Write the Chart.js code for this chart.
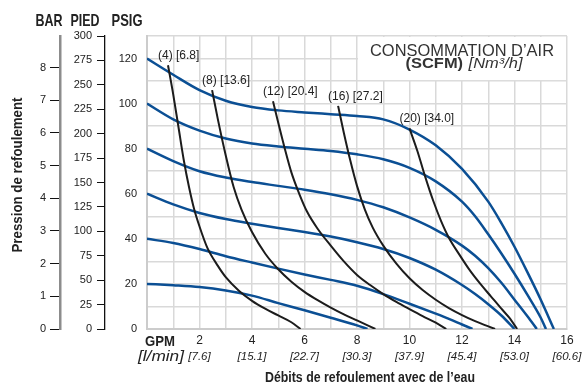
<!DOCTYPE html>
<html><head><meta charset="utf-8">
<script src="https://cdn.jsdelivr.net/npm/chart.js@4/dist/chart.umd.min.js"></script>
<style>html,body{margin:0;padding:0;background:#fff;}#wrap{width:582px;height:385px;}</style>
</head><body><div id="wrap"><canvas id="c" width="582" height="385"></canvas></div>
<script>
// ---- data (GPM, PSIG) ----
const psig20  = [[0,20],[1,19.4],[2,18.6],[3,17.1],[4,14.8],[5,11.5],[6,8.3],[7,5],[8,1.6],[8.4,0]];
const psig40  = [[0,40],[1,38.2],[2,35.5],[3,32.3],[4,29.5],[5,26.8],[6,24.2],[7,21.8],[8,19.2],[9,15.5],[10,11.2],[11,6.8],[11.5,4.5],[12,2],[12.4,0]];
const psig60  = [[0,60],[1,55.3],[2,51.5],[3,48.8],[4,46.7],[5,44.8],[6,43],[7,41],[8,38.5],[9,35.5],[10,31.5],[11,26.3],[12,19.5],[12.5,15.5],[13,11],[13.5,6],[14,0]];
const psig80  = [[0,80],[1,74.5],[2,70],[3,67.2],[4,65.2],[5,63.5],[6,61.8],[7,59.8],[8,57.3],[9,54],[10,49.5],[11,44],[12,37],[12.5,32.5],[13,27],[13.5,20.5],[14,13],[14.5,5.5],[14.85,0]];
const psig100 = [[0,100],[1,93],[2,88],[3,84.5],[4,82.3],[5,81],[6,80],[7,79],[8,77.5],[9,75.3],[10,71.5],[11,65.5],[12,56.5],[12.5,50],[13,42],[13.5,33.5],[14,24.5],[14.5,15],[15,5],[15.2,0]];
const psig120 = [[0,120],[1,112.8],[2,106],[3,101.3],[4,98.5],[5,97],[6,96.1],[7,95.3],[8,94.5],[9,93],[10,88.5],[11,81.5],[12,71],[13,56.5],[13.5,47],[14,36.5],[14.5,25],[15,13],[15.5,0]];

const scfm4  = [[0.8,117],[1,104],[1.2,89.5],[1.4,75],[1.6,63],[1.8,53],[2,45.5],[2.3,36],[2.7,28],[3,23],[3.5,17],[4,12.5],[4.5,9],[5,6],[5.5,3],[5.85,0]];
const scfm8  = [[2.48,106],[2.7,93],[3,77],[3.3,63],[3.6,53],[4,43],[4.5,33.5],[5,26.5],[5.5,21],[6,16.5],[6.5,12.8],[7,9.5],[7.5,6.5],[8,3.8],[8.7,0]];
const scfm12 = [[4.8,101],[5,91.5],[5.25,80],[5.5,69.5],[5.8,60],[6.1,52],[6.5,44.5],[7,37],[7.5,30],[8,24],[8.5,19.5],[9,15.5],[9.5,12],[10,8.8],[10.5,5.7],[11,2.8],[11.4,0]];
const scfm16 = [[7.28,99],[7.5,87],[7.75,74.5],[8,63.5],[8.3,53],[8.6,45],[9,37],[9.5,29],[10,22.5],[10.5,17.3],[11,13],[11.5,9.3],[12,6.2],[12.5,3.5],[13.26,0]];
const scfm20 = [[10,89],[10.3,79],[10.6,67.5],[10.9,57],[11.2,48],[11.5,40.5],[11.9,33],[12.3,26],[12.7,20],[13.1,14.5],[13.5,9],[13.8,5],[14.1,0]];

const scfmLabels = ['(4) [6.8]','(8) [13.6]','(12) [20.4]','(16) [27.2]','(20) [34.0]'];
const gpmTicks = [2,4,6,8,10,12,14,16];
const lminLabels = ['[7.6]','[15.1]','[22.7]','[30.3]','[37.9]','[45.4]','[53.0]','[60.6]'];
const psigTicks = [0,20,40,60,80,100,120];

// ---- styles ----
const FONT = '"Liberation Sans", Arial, Helvetica, sans-serif';
const BLUE = '#0b4f94', BLACK = '#1c1c1c', GRID = '#d9d9d9';
const toXY = a => a.map(p => ({x:p[0], y:p[1]}));

const blueSets = [psig20,psig40,psig60,psig80,psig100,psig120].map(d => ({
  data: toXY(d), borderColor: BLUE, borderWidth: 2.5, pointRadius: 0,
  cubicInterpolationMode: 'monotone', order: 1, yAxisID: 'y'
}));
const blackSets = [scfm4,scfm8,scfm12,scfm16,scfm20].map(d => ({
  data: toXY(d), borderColor: BLACK, borderWidth: 2, pointRadius: 0,
  cubicInterpolationMode: 'monotone', order: 0, yAxisID: 'y'
}));

function fitText(ctx, str, x, y, font, width, align, color) {
  ctx.save();
  ctx.font = font; ctx.fillStyle = color || '#222'; ctx.textBaseline = 'middle';
  const w = ctx.measureText(str).width; const s = width / w;
  ctx.translate(x, y); ctx.scale(s, 1);
  ctx.textAlign = align || 'center';
  ctx.fillText(str, 0, 0);
  ctx.restore();
}

const decor = {
  id: 'decor',
  beforeDatasetsDraw(chart) {
    const {ctx, scales:{x, y}} = chart;
    const x0 = x.getPixelForValue(8), x1 = x.getPixelForValue(16);
    const y0 = y.getPixelForValue(130), y1 = y.getPixelForValue(110);
    ctx.save();
    ctx.fillStyle = '#fff';
    ctx.fillRect(x0 + 1, y0 + 1, x1 - x0 - 2, y1 - y0 - 2);
    ctx.restore();
    const cx = (x0 + x1) / 2;
    fitText(ctx, 'CONSOMMATION D’AIR', cx, y0 + 15, '17px ' + FONT, 184, 'center', '#333');
    ctx.save();
    const f1 = 'bold 15px ' + FONT, f2 = 'italic 15px ' + FONT;
    const t1 = '(SCFM)', t2 = '[Nm³/h]';
    ctx.font = f1; const w1 = ctx.measureText(t1).width;
    ctx.font = f2; const w2 = ctx.measureText(t2).width;
    const total = w1 + 5 + w2, s = 117 / total;
    ctx.translate(cx + 2 - 117 / 2, y0 + 28); ctx.scale(s, 1);
    ctx.textBaseline = 'middle'; ctx.textAlign = 'left'; ctx.fillStyle = '#333';
    ctx.font = f1; ctx.fillText(t1, 0, 0);
    ctx.font = f2; ctx.fillText(t2, w1 + 5, 0);
    ctx.restore();
  },
  afterDraw(chart) {
    const {ctx, scales:{x, y, pied, bar}} = chart;
    fitText(ctx, 'BAR', bar.right - 11, 21, 'bold 17px ' + FONT, 27, 'center', '#222');
    fitText(ctx, 'PIED', pied.right - 20, 21, 'bold 17px ' + FONT, 29, 'center', '#222');
    fitText(ctx, 'PSIG', y.right - 20, 21, 'bold 17px ' + FONT, 31, 'center', '#222');
    ctx.save();
    ctx.translate(18, (y.top + y.bottom) / 2 - 7.5);
    ctx.rotate(-Math.PI / 2);
    fitText(ctx, 'Pression de refoulement', 0, 0, 'bold 15px ' + FONT, 155, 'center', '#222');
    ctx.restore();
    const by = y.bottom;
    fitText(ctx, 'GPM', x.left + 13, by + 13, 'bold 14px ' + FONT, 30, 'center', '#222');
    fitText(ctx, '[l/min]', x.left + 14, by + 28, 'italic 14px ' + FONT, 46, 'center', '#222');
    gpmTicks.forEach((v, i) => {
      const px = x.getPixelForValue(v);
      ctx.save();
      ctx.font = '12px ' + FONT; ctx.fillStyle = '#222';
      ctx.textAlign = 'center'; ctx.textBaseline = 'middle';
      ctx.fillText(String(v), px, by + 12);
      ctx.font = 'italic 11.5px ' + FONT;
      ctx.fillText(lminLabels[i], px, by + 28);
      ctx.restore();
    });
    fitText(ctx, 'Débits de refoulement avec de l’eau', (x.left + x.right) / 2 + 13, by + 49, 'bold 15px ' + FONT, 210, 'center', '#222');
    [scfm4,scfm8,scfm12,scfm16,scfm20].forEach((d, i) => {
      const px = x.getPixelForValue(d[0][0]), py = y.getPixelForValue(d[0][1]);
      ctx.save();
      ctx.font = '12px ' + FONT; ctx.fillStyle = '#222';
      ctx.textAlign = 'left'; ctx.textBaseline = 'middle';
      ctx.fillText(scfmLabels[i], px - 10, py - 9.5);
      ctx.restore();
    });
  }
};

const tickFont = {family: FONT, size: 11};
new Chart(document.getElementById('c'), {
  type: 'line',
  data: { datasets: [...blackSets, ...blueSets] },
  options: {
    responsive: false, animation: false, devicePixelRatio: 1,
    layout: { padding: { top: 36, right: 15, bottom: 0, left: 0 } },
    plugins: { legend: {display: false}, tooltip: {enabled: false} },
    scales: {
      x: {
        type: 'linear', min: 0, max: 16,
        ticks: { stepSize: 1, display: false },
        grid: { color: GRID, lineWidth: 1.5, drawTicks: false },
        border: { color: '#cccccc', width: 2 },
        afterFit: s => { s.height = 56; }
      },
      y: {
        type: 'linear', position: 'left', weight: 0, min: 0, max: 130,
        ticks: { stepSize: 10, includeBounds: false, padding: 10, font: tickFont, color: '#222',
          callback: v => psigTicks.includes(v) ? String(v) : '' },
        grid: { color: GRID, lineWidth: 1.5, drawTicks: false },
        border: { color: '#cccccc', width: 2 },
        afterFit: s => { s.width = 42; }
      },
      pied: {
        type: 'linear', position: 'left', weight: 1, min: 0, max: 300,
        ticks: { stepSize: 25, includeBounds: false, padding: 5, font: tickFont, color: '#222' },
        grid: { drawOnChartArea: false, drawTicks: true, tickLength: 8, color: '#111', lineWidth: 1 },
        border: { color: '#111', width: 1.3 },
        afterFit: s => { s.width = 45; }
      },
      bar: {
        type: 'linear', position: 'left', weight: 2, min: 0, max: 130 / 14.5038,
        ticks: { stepSize: 1, includeBounds: false, padding: 4, font: tickFont, color: '#222' },
        grid: { drawOnChartArea: false, drawTicks: true, tickLength: 10, color: '#111', lineWidth: 1 },
        border: { color: '#8c8c8c', width: 2.5 },
        afterFit: s => { s.width = 60; }
      }
    }
  },
  plugins: [decor]
});
</script></body></html>
